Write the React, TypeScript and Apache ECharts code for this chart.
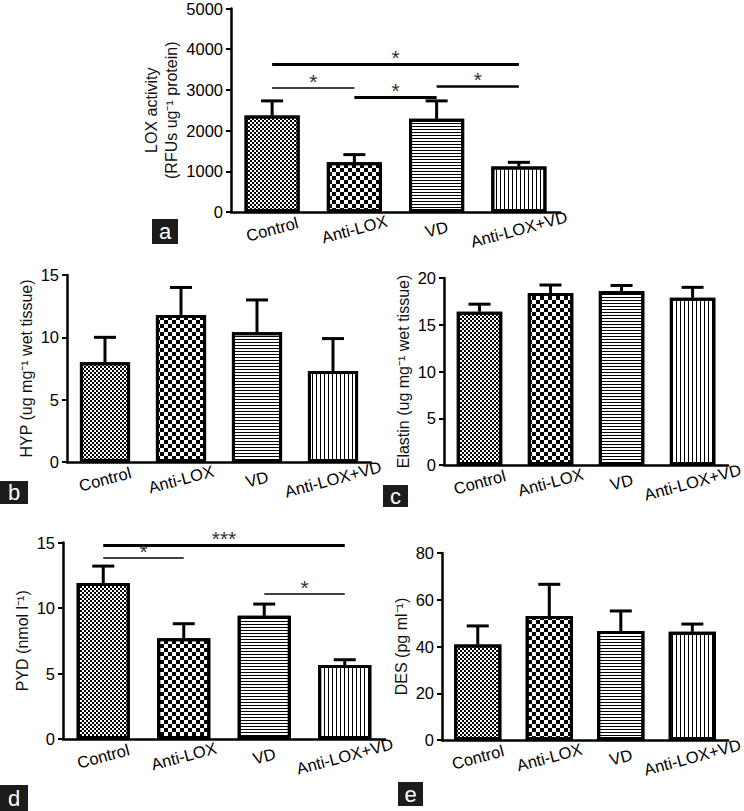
import React, { useEffect, useRef } from 'react';
import * as echarts from 'echarts';

const categories = ['Control', 'Anti-LOX', 'VD', 'Anti-LOX+VD'];

// Panel a: LOX activity
const loxMean = [2370, 1220, 2290, 1120];
const loxSem = [360, 190, 440, 100];
// Panel b: HYP
const hypMean = [8.0, 11.8, 10.4, 7.3];
const hypSem = [2.0, 2.2, 2.6, 2.6];
// Panel c: Elastin
const elastinMean = [16.4, 18.4, 18.6, 17.9];
const elastinSem = [0.8, 0.85, 0.6, 1.1];
// Panel d: PYD
const pydMean = [11.9, 7.7, 9.4, 5.65];
const pydSem = [1.3, 1.1, 0.9, 0.4];
// Panel e: DES
const desMean = [40.9, 53.0, 46.6, 46.3];
const desSem = [7.9, 13.6, 8.6, 3.3];

// Significance brackets
const loxSig = [
  { from: 'Control', to: 'Anti-LOX+VD', level: 3630, label: '*' },
  { from: 'Control', to: 'Anti-LOX', level: 3050, label: '*' },
  { from: 'Anti-LOX', to: 'VD', level: 2830, label: '*' },
  { from: 'VD', to: 'Anti-LOX+VD', level: 3100, label: '*' },
];
const pydSig = [
  { from: 'Control', to: 'Anti-LOX+VD', level: 14.8, label: '***' },
  { from: 'Control', to: 'Anti-LOX', level: 13.8, label: '*' },
  { from: 'VD', to: 'Anti-LOX+VD', level: 11.1, label: '*' },
];
const loxSigWidths = [3, 1.5, 3, 2.5];
const pydSigWidths = [3, 1.5, 1.5];

const FONT = 'Liberation Sans, Arial, Helvetica, sans-serif';

const decals: any[] = [
  { symbol: 'rect', symbolSize: 1, color: '#000', dashArrayX: [[2, 2], [0, 2, 2, 0]], dashArrayY: [2, 0] },
  { symbol: 'rect', symbolSize: 1, color: '#000', dashArrayX: [[4, 4], [0, 4, 4, 0]], dashArrayY: [4, 0] },
  { symbol: 'rect', symbolSize: 1, color: '#000', dashArrayX: [1, 0], dashArrayY: [1, 2] },
  { symbol: 'rect', symbolSize: 1, color: '#000', dashArrayX: [1, 3], dashArrayY: [1, 0] },
];

type Panel = {
  mean: number[];
  sem: number[];
  max: number;
  interval: number;
  name: string;
  nameGap: number;
  grid: { left: number; top: number; width: number; height: number };
  barWidth: string;
  sig?: { from: string; to: string; level: number; label: string }[];
  sigWidths?: number[];
};

const panels: Panel[] = [
  {
    mean: loxMean, sem: loxSem, max: 5000, interval: 1000,
    name: 'LOX activity\n(RFUs ug⁻¹ protein)', nameGap: 50,
    grid: { left: 231, top: 7, width: 329, height: 205 }, barWidth: '67%',
    sig: loxSig, sigWidths: loxSigWidths,
  },
  {
    mean: hypMean, sem: hypSem, max: 15, interval: 5,
    name: 'HYP (ug mg⁻¹ wet tissue)', nameGap: 24,
    grid: { left: 67, top: 275, width: 304, height: 187 }, barWidth: '66%',
  },
  {
    mean: elastinMean, sem: elastinSem, max: 20, interval: 5,
    name: 'Elastin (ug mg⁻¹ wet tissue)', nameGap: 24,
    grid: { left: 444, top: 278, width: 298, height: 187 }, barWidth: '64%',
  },
  {
    mean: pydMean, sem: pydSem, max: 15, interval: 5,
    name: 'PYD (nmol l⁻¹)', nameGap: 25,
    grid: { left: 63, top: 542.5, width: 322, height: 196.5 }, barWidth: '66%',
    sig: pydSig, sigWidths: pydSigWidths,
  },
  {
    mean: desMean, sem: desSem, max: 80, interval: 20,
    name: 'DES (pg ml⁻¹)', nameGap: 27,
    grid: { left: 442, top: 553, width: 298, height: 187 }, barWidth: '66%',
  },
];

const badges = [
  { letter: 'a', x: 152, y: 219, w: 26, h: 25 },
  { letter: 'b', x: 0, y: 481, w: 28, h: 23 },
  { letter: 'c', x: 383, y: 485, w: 25, h: 22 },
  { letter: 'd', x: 0, y: 785, w: 28, h: 26 },
  { letter: 'e', x: 398, y: 782, w: 25, h: 24 },
];

function buildOption() {
  const grids: any[] = [];
  const xAxes: any[] = [];
  const yAxes: any[] = [];
  const series: any[] = [];

  panels.forEach((p, i) => {
    grids.push({ ...p.grid, containLabel: false });
    xAxes.push({
      type: 'category',
      gridIndex: i,
      data: categories,
      axisLine: { lineStyle: { color: '#000', width: 2.5 } },
      axisTick: { alignWithLabel: true, length: 6, lineStyle: { color: '#000', width: 2 } },
      axisLabel: {
        interval: 0, rotate: 15, align: 'center', verticalAlign: 'middle',
        margin: 17, fontSize: 16.5, color: '#000', fontFamily: FONT,
      },
      splitLine: { show: false },
    });
    yAxes.push({
      type: 'value',
      gridIndex: i,
      min: 0,
      max: p.max,
      interval: p.interval,
      name: p.name,
      nameLocation: 'middle',
      nameGap: p.nameGap,
      nameTextStyle: { fontSize: 16, color: '#111', fontFamily: FONT, lineHeight: 20 },
      axisLine: { show: true, lineStyle: { color: '#000', width: 2.5 } },
      axisTick: { show: true, length: 5, lineStyle: { color: '#000', width: 2 } },
      axisLabel: {
        fontSize: 16.5, color: '#000', margin: 8, fontFamily: FONT,
        formatter: (v: number) => String(v),
      },
      splitLine: { show: false },
    });

    const markLine = p.sig
      ? {
          silent: true,
          symbol: ['none', 'none'],
          animation: false,
          data: p.sig.map((s, k) => [
            {
              coord: [categories.indexOf(s.from), s.level],
              lineStyle: { color: '#000', width: p.sigWidths![k], type: 'solid' },
              label: {
                show: true, position: 'middle', formatter: s.label,
                color: '#333', fontSize: 21, distance: -4, fontFamily: FONT,
              },
            },
            { coord: [categories.indexOf(s.to), s.level] },
          ]),
        }
      : undefined;

    series.push({
      type: 'bar',
      xAxisIndex: i,
      yAxisIndex: i,
      barWidth: p.barWidth,
      z: 3,
      itemStyle: { color: '#fff', borderColor: '#000', borderWidth: 3 },
      data: p.mean.map((v, j) => ({ value: v, itemStyle: { decal: decals[j] } })),
      markLine,
    });

    series.push({
      type: 'custom',
      xAxisIndex: i,
      yAxisIndex: i,
      z: 2,
      data: p.mean.map((m, j) => [j, m, m + p.sem[j]]),
      encode: { x: 0, y: [1, 2] },
      renderItem: (params: any, api: any) => {
        const x = api.value(0);
        const base = api.coord([x, api.value(1)]);
        const top = api.coord([x, api.value(2)]);
        const half = 11;
        return {
          type: 'group',
          children: [
            { type: 'line', shape: { x1: base[0], y1: base[1], x2: top[0], y2: top[1] }, style: { stroke: '#000', lineWidth: 3 } },
            { type: 'line', shape: { x1: top[0] - half, y1: top[1], x2: top[0] + half, y2: top[1] }, style: { stroke: '#000', lineWidth: 3 } },
          ],
        };
      },
    });
  });

  const graphic: any[] = badges.map((b) => ({
    type: 'group',
    children: [
      { type: 'rect', shape: { x: b.x, y: b.y, width: b.w, height: b.h }, style: { fill: '#1c1c1c' } },
      {
        type: 'text',
        style: {
          x: b.x + b.w / 2, y: b.y + b.h / 2, text: b.letter, fill: '#fff',
          font: `22px ${FONT}`, align: 'center', verticalAlign: 'middle',
        },
      },
    ],
  }));

  return {
    animation: false,
    backgroundColor: '#fff',
    textStyle: { fontFamily: FONT },
    grid: grids,
    xAxis: xAxes,
    yAxis: yAxes,
    series,
    graphic,
  };
}

export default function App() {
  const ref = useRef<HTMLDivElement>(null);
  useEffect(() => {
    if (!ref.current) return;
    const chart = echarts.init(ref.current, undefined, { renderer: 'svg' });
    chart.setOption(buildOption() as any);
    return () => chart.dispose();
  }, []);
  return (
    <div
      ref={ref}
      style={{ position: 'absolute', left: 0, top: 0, width: 744, height: 811, background: '#fff' }}
    />
  );
}
